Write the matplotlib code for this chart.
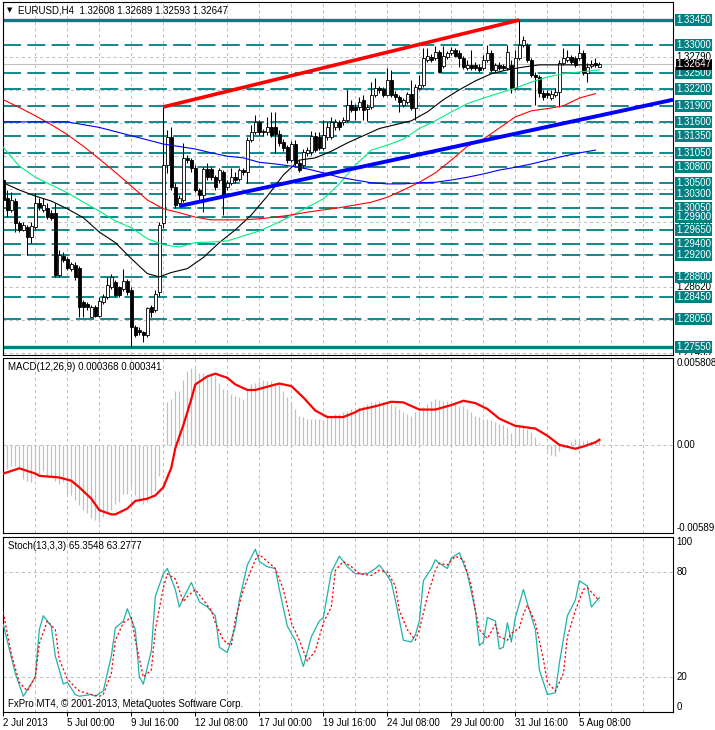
import matplotlib

matplotlib.use("Agg")
import matplotlib.pyplot as plt
import numpy as np

plt.rcParams["font.family"] = ["Liberation Sans", "DejaVu Sans"]
plt.rcParams["lines.scale_dashes"] = False

# ---- EURUSD H4 candles (2 Jul - 6 Aug 2013) ----
open_ = [
    1.3056, 1.3024, 1.3002, 1.3018, 1.2979, 1.2966, 1.2971, 1.2953, 1.2971, 1.3015,
    1.3002, 1.3006, 1.2997, 1.2997, 1.2885, 1.2919, 1.2914, 1.2896, 1.2903, 1.2898,
    1.2835, 1.2833, 1.2809, 1.2827, 1.2811, 1.2836, 1.2845, 1.2863, 1.2871, 1.2862,
    1.2860, 1.2874, 1.2858, 1.2791, 1.2786, 1.2781, 1.2777, 1.2826, 1.2822, 1.2853,
    1.2979, 1.3083, 1.3134, 1.3043, 1.3015, 1.3020, 1.3096, 1.3092, 1.3078, 1.3038,
    1.3029, 1.3076, 1.3076, 1.3061, 1.3056, 1.3070, 1.3043, 1.3051, 1.3061, 1.3058,
    1.3074, 1.3070, 1.3128, 1.3143, 1.3161, 1.3145, 1.3142, 1.3151, 1.3151, 1.3140,
    1.3124, 1.3115, 1.3092, 1.3121, 1.3087, 1.3083, 1.3105, 1.3106, 1.3136, 1.3134,
    1.3114, 1.3134, 1.3134, 1.3151, 1.3160, 1.3160, 1.3165, 1.3192, 1.3188, 1.3188,
    1.3201, 1.3185, 1.3188, 1.3210, 1.3222, 1.3221, 1.3210, 1.3237, 1.3212, 1.3206,
    1.3192, 1.3197, 1.3212, 1.3186, 1.3222, 1.3228, 1.3273, 1.3278, 1.3277, 1.3287,
    1.3262, 1.3278, 1.3285, 1.3291, 1.3285, 1.3277, 1.3258, 1.3264, 1.3264, 1.3260,
    1.3258, 1.3273, 1.3285, 1.3255, 1.3264, 1.3262, 1.3258, 1.3264, 1.3222, 1.3277,
    1.3300, 1.3300, 1.3273, 1.3246, 1.3242, 1.3214, 1.3214, 1.3205, 1.3210, 1.3215,
    1.3268, 1.3273, 1.3278, 1.3277, 1.3277, 1.3285, 1.3249, 1.3262, 1.3268, 1.32608,
]
high = [
    1.3078, 1.3038, 1.3034, 1.3024, 1.2982, 1.2980, 1.2975, 1.2980, 1.3033, 1.3024,
    1.3024, 1.3015, 1.3002, 1.3015, 1.2930, 1.2926, 1.2917, 1.2908, 1.2908, 1.2901,
    1.2840, 1.2836, 1.2831, 1.2831, 1.2844, 1.2851, 1.2880, 1.2887, 1.2876, 1.2865,
    1.2896, 1.2878, 1.2862, 1.2795, 1.2790, 1.2784, 1.2827, 1.2831, 1.2858, 1.2980,
    1.3188, 1.3147, 1.3152, 1.3051, 1.3029, 1.3123, 1.3101, 1.3096, 1.3083, 1.3042,
    1.3079, 1.3087, 1.3079, 1.3065, 1.3078, 1.3074, 1.3056, 1.3078, 1.3070, 1.3078,
    1.3078, 1.3134, 1.3156, 1.3174, 1.3165, 1.3149, 1.3169, 1.3178, 1.3178, 1.3147,
    1.3130, 1.3120, 1.3127, 1.3128, 1.3092, 1.3112, 1.3115, 1.3145, 1.3142, 1.3142,
    1.3165, 1.3160, 1.3169, 1.3167, 1.3165, 1.3170, 1.3219, 1.3201, 1.3194, 1.3206,
    1.3210, 1.3194, 1.3233, 1.3240, 1.3226, 1.3224, 1.3259, 1.3255, 1.3217, 1.3210,
    1.3205, 1.3215, 1.3237, 1.3230, 1.3246, 1.3295, 1.3295, 1.3284, 1.3298, 1.3291,
    1.3298, 1.3289, 1.3296, 1.3295, 1.3291, 1.3280, 1.3273, 1.3291, 1.3269, 1.3266,
    1.3282, 1.3300, 1.3291, 1.3268, 1.3269, 1.3266, 1.3300, 1.3273, 1.3291, 1.3345,
    1.3316, 1.3304, 1.3277, 1.3251, 1.3246, 1.3219, 1.3219, 1.3219, 1.3222, 1.3273,
    1.3295, 1.3291, 1.3282, 1.3280, 1.3300, 1.3291, 1.3268, 1.3273, 1.3277, 1.32689,
]
low = [
    1.3016, 1.2989, 1.2998, 1.2962, 1.2962, 1.2964, 1.2921, 1.2943, 1.2968, 1.3002,
    1.2998, 1.2986, 1.2984, 1.2881, 1.2881, 1.2908, 1.2894, 1.2892, 1.2876, 1.2808,
    1.2808, 1.2822, 1.2808, 1.2808, 1.2808, 1.2833, 1.2842, 1.2860, 1.2845, 1.2845,
    1.2856, 1.2849, 1.2755, 1.2773, 1.2777, 1.2764, 1.2773, 1.2809, 1.2817, 1.2847,
    1.2970, 1.3069, 1.3038, 1.3006, 1.3009, 1.3016, 1.3087, 1.3070, 1.3034, 1.3020,
    1.2998, 1.3056, 1.3056, 1.3038, 1.3051, 1.2993, 1.3038, 1.3047, 1.3051, 1.3054,
    1.3065, 1.3051, 1.3124, 1.3140, 1.3138, 1.3136, 1.3138, 1.3134, 1.3105, 1.3118,
    1.3108, 1.3087, 1.3088, 1.3081, 1.3070, 1.3078, 1.3099, 1.3101, 1.3106, 1.3110,
    1.3110, 1.3128, 1.3130, 1.3147, 1.3147, 1.3156, 1.3161, 1.3179, 1.3165, 1.3183,
    1.3165, 1.3163, 1.3185, 1.3206, 1.3214, 1.3206, 1.3208, 1.3206, 1.3201, 1.3178,
    1.3188, 1.3194, 1.3183, 1.3165, 1.3219, 1.3224, 1.3269, 1.3269, 1.3273, 1.3249,
    1.3258, 1.3275, 1.3282, 1.3278, 1.3260, 1.3257, 1.3255, 1.3255, 1.3255, 1.3251,
    1.3255, 1.3269, 1.3251, 1.3251, 1.3255, 1.3255, 1.3255, 1.3213, 1.3219, 1.3273,
    1.3296, 1.3269, 1.3242, 1.3192, 1.3206, 1.3201, 1.3205, 1.3201, 1.3206, 1.3188,
    1.3264, 1.3269, 1.3266, 1.3260, 1.3273, 1.3246, 1.3233, 1.3258, 1.3260, 1.32593,
]
close = [
    1.3020, 1.3002, 1.3020, 1.2979, 1.2966, 1.2975, 1.2953, 1.2973, 1.3015, 1.3007,
    1.3011, 1.2989, 1.2988, 1.2885, 1.2921, 1.2912, 1.2898, 1.2905, 1.2880, 1.2826,
    1.2826, 1.2827, 1.2826, 1.2811, 1.2838, 1.2845, 1.2867, 1.2880, 1.2849, 1.2849,
    1.2874, 1.2853, 1.2790, 1.2777, 1.2781, 1.2777, 1.2824, 1.2818, 1.2851, 1.2975,
    1.3083, 1.3134, 1.3043, 1.3011, 1.3024, 1.3096, 1.3092, 1.3078, 1.3038, 1.3029,
    1.3076, 1.3061, 1.3061, 1.3043, 1.3074, 1.3025, 1.3051, 1.3061, 1.3056, 1.3074,
    1.3070, 1.3128, 1.3143, 1.3161, 1.3142, 1.3142, 1.3152, 1.3138, 1.3140, 1.3123,
    1.3114, 1.3092, 1.3121, 1.3087, 1.3074, 1.3106, 1.3110, 1.3136, 1.3110, 1.3114,
    1.3138, 1.3152, 1.3161, 1.3161, 1.3151, 1.3165, 1.3192, 1.3183, 1.3183, 1.3197,
    1.3183, 1.3188, 1.3210, 1.3222, 1.3219, 1.3210, 1.3237, 1.3210, 1.3206, 1.3197,
    1.3201, 1.3212, 1.3186, 1.3224, 1.3228, 1.3277, 1.3280, 1.3273, 1.3287, 1.3251,
    1.3280, 1.3285, 1.3291, 1.3280, 1.3277, 1.3260, 1.3264, 1.3258, 1.3258, 1.3255,
    1.3273, 1.3285, 1.3255, 1.3264, 1.3258, 1.3258, 1.3287, 1.3222, 1.3277, 1.3300,
    1.3309, 1.3273, 1.3246, 1.3242, 1.3214, 1.3206, 1.3210, 1.3212, 1.3215, 1.3268,
    1.3277, 1.3278, 1.3269, 1.3264, 1.3285, 1.3249, 1.3260, 1.3266, 1.3264, 1.32647,
]

# ---- moving averages (bar index, price) ----
ma_black_idx = [0, 4, 8, 12, 16, 20, 24, 28, 32, 36, 39, 42, 46, 50, 54, 58, 62, 66, 70,
                74, 78, 82, 86, 90, 94, 98, 102, 106, 110, 114, 118, 122, 126, 130, 134,
                138, 142, 146, 149]
ma_black = [1.3051, 1.3038, 1.3027, 1.3018, 1.3004, 1.2988, 1.2962, 1.2943, 1.2914,
            1.2887, 1.2881, 1.2889, 1.2896, 1.2916, 1.2943, 1.2966, 1.2993, 1.3027,
            1.3065, 1.3092, 1.3096, 1.3108, 1.3123, 1.3136, 1.3149, 1.3156, 1.3163,
            1.3179, 1.3201, 1.3219, 1.3235, 1.3248, 1.3255, 1.3260, 1.3264, 1.3264,
            1.3264, 1.3264, 1.3264]
ma_green_idx = [0, 4, 8, 12, 16, 20, 24, 28, 32, 36, 40, 44, 48, 52, 56, 60, 64, 68, 72,
                76, 80, 84, 88, 92, 96, 100, 104, 108, 112, 116, 120, 124, 128, 132, 136,
                140, 144, 149]
ma_green = [1.3115, 1.3081, 1.3061, 1.3047, 1.3033, 1.3016, 1.3000, 1.2982, 1.2970,
            1.2950, 1.2939, 1.2935, 1.2943, 1.2944, 1.2946, 1.2955, 1.2964, 1.2977,
            1.2991, 1.3007, 1.3022, 1.3049, 1.3083, 1.3110, 1.3119, 1.3130, 1.3149,
            1.3163, 1.3179, 1.3194, 1.3204, 1.3213, 1.3222, 1.3233, 1.3242, 1.3248,
            1.3251, 1.3255]
ma_red_idx = [0, 4, 8, 12, 16, 20, 24, 28, 32, 36, 40, 44, 48, 52, 56, 60, 64, 68, 72, 76,
              80, 84, 88, 92, 96, 100, 104, 108, 112, 116, 120, 124, 128, 132, 136, 140,
              144, 148]
ma_red = [1.3201, 1.3187, 1.3172, 1.3156, 1.3138, 1.3117, 1.3094, 1.3070, 1.3045, 1.3020,
          1.3004, 1.2997, 1.2989, 1.2984, 1.2984, 1.2984, 1.2986, 1.2989, 1.2993, 1.2998,
          1.3002, 1.3006, 1.3011, 1.3016, 1.3025, 1.3038, 1.3052, 1.3069, 1.3092, 1.3117,
          1.3130, 1.3150, 1.3170, 1.3181, 1.3185, 1.3190, 1.3204, 1.3212]
ma_blue_idx = [0, 16, 20, 24, 32, 40, 48, 52, 56, 60, 64, 68, 72, 76, 80, 84, 88, 92, 96,
               100, 104, 108, 112, 116, 120, 124, 128, 132, 136, 140, 144, 148]
ma_blue = [1.3161, 1.3161, 1.3156, 1.3151, 1.3136, 1.3121, 1.3112, 1.3105, 1.3099, 1.3096,
           1.3088, 1.3085, 1.3081, 1.3076, 1.3069, 1.3061, 1.3056, 1.3051, 1.3049, 1.3049,
           1.3051, 1.3052, 1.3056, 1.3061, 1.3067, 1.3074, 1.3079, 1.3085, 1.3092, 1.3099,
           1.3105, 1.3110]

# ---- trend lines (bar index, price) ----
trend_red_idx = [40, 129]
trend_red = [1.3188, 1.3345]
trend_blue_idx = [44, 167.4]
trend_blue = [1.3009, 1.3201]

# ---- horizontal levels ----
levels_solid = [1.3345, 1.2755]
levels_dashed = [1.3300, 1.3250, 1.3220, 1.3190, 1.3160, 1.3135, 1.3105, 1.3080, 1.3050,
                 1.3030, 1.3005, 1.2990, 1.2965, 1.2940, 1.2920, 1.2880, 1.2845, 1.2805]
price_grid = [1.27435, 1.28030, 1.28620, 1.29215, 1.29810, 1.30405, 1.31000, 1.31595,
              1.32190, 1.32790]
bid = 1.32647

# ---- MACD(12,26,9) ----
macd = [
    -0.00186, -0.00164, -0.00142, -0.00142, -0.00153, -0.00229, -0.00240, -0.00251, -0.00196, -0.00196,
    -0.00175, -0.00207, -0.00207, -0.00240, -0.00262, -0.00251, -0.00327, -0.00338, -0.00371, -0.00404,
    -0.00437, -0.00458, -0.00491, -0.00502, -0.00513, -0.00480, -0.00458, -0.00437, -0.00393, -0.00382,
    -0.00327, -0.00327, -0.00284, -0.00338, -0.00382, -0.00393, -0.00382, -0.00338, -0.00306, -0.00207,
    0.00005, 0.00284, 0.00306, 0.00360, 0.00360, 0.00437, 0.00491, 0.00513, 0.00513, 0.00480,
    0.00480, 0.00469, 0.00480, 0.00458, 0.00415, 0.00371, 0.00360, 0.00338, 0.00327, 0.00317,
    0.00306, 0.00382, 0.00404, 0.00415, 0.00426, 0.00432, 0.00426, 0.00426, 0.00415, 0.00404,
    0.00360, 0.00317, 0.00284, 0.00240, 0.00196, 0.00186, 0.00175, 0.00175, 0.00175, 0.00175,
    0.00164, 0.00186, 0.00196, 0.00207, 0.00207, 0.00218, 0.00229, 0.00240, 0.00240, 0.00251,
    0.00262, 0.00273, 0.00284, 0.00288, 0.00295, 0.00284, 0.00279, 0.00273, 0.00262, 0.00240,
    0.00218, 0.00207, 0.00196, 0.00218, 0.00229, 0.00251, 0.00273, 0.00295, 0.00306, 0.00301,
    0.00295, 0.00295, 0.00295, 0.00284, 0.00262, 0.00258, 0.00240, 0.00218, 0.00196, 0.00186,
    0.00175, 0.00175, 0.00164, 0.00153, 0.00142, 0.00131, 0.00120, 0.00076, 0.00131, 0.00142,
    0.00131, 0.00109, 0.00087, 0.00055, 0.00011, 0.00000, -0.00033, -0.00065, -0.00076, -0.00044,
    -0.00022, -0.00004, 0.00022, 0.00039, 0.00039, 0.00026, 0.00033, 0.00026, 0.00022, 0.000368,
]
signal_idx = [0, 4, 8, 9, 14, 17, 19, 22, 24, 27, 28, 31, 33, 36, 38, 40, 42, 43, 45, 47,
              48, 51, 53, 56, 58, 61, 63, 66, 69, 72, 75, 78, 81, 85, 88, 89, 93, 97, 100,
              104, 108, 112, 115, 118, 121, 124, 128, 133, 136, 139, 143, 145, 148, 149]
signal = [-0.00192, -0.00157, -0.00192, -0.00207, -0.00218, -0.00240, -0.00284, -0.00360,
          -0.00437, -0.00465, -0.00465, -0.00426, -0.00375, -0.00360, -0.00338, -0.00284,
          -0.00153, -0.00022, 0.00131, 0.00306, 0.00404, 0.00458, 0.00476, 0.00448, 0.00404,
          0.00367, 0.00367, 0.00389, 0.00410, 0.00393, 0.00317, 0.00229, 0.00186, 0.00186,
          0.00218, 0.00234, 0.00258, 0.00288, 0.00284, 0.00236, 0.00236, 0.00266, 0.00295,
          0.00279, 0.00240, 0.00175, 0.00127, 0.00109, 0.00061, 0.00000, -0.00026, -0.00011,
          0.00017, 0.000341]

# ---- Stoch(13,3,3) ----
stoch_idx = [0, 3, 5, 8, 9, 10, 12, 13, 15, 16, 18, 19, 22, 23, 25, 27, 28, 30, 31, 33, 34,
             35, 37, 38, 40, 41, 43, 44, 45, 47, 49, 51, 53, 54, 56, 58, 59, 61, 63, 64, 66,
             68, 69, 71, 73, 75, 77, 79, 80, 82, 84, 86, 88, 89, 91, 93, 94, 96, 97, 98,
             100, 102, 103, 104, 105, 107, 108, 109, 111, 112, 114, 116, 118, 119, 120, 121,
             123, 124, 125, 126, 127, 128, 130, 131, 133, 134, 136, 138, 139, 141, 143, 144,
             146, 147, 149]
stoch_main = [50, 22, 9, 20, 47, 55, 49, 32, 16, 17, 10, 9, 10, 9, 12, 32, 48, 52, 59, 47, 20,
              16, 35, 66, 79, 82, 70, 60, 65, 74, 63, 60, 55, 37, 34, 49, 64, 84, 93, 86, 83,
              82, 70, 49, 41, 26, 43, 52, 54, 80, 89, 83, 79, 79, 79, 82, 84, 78, 74, 64,
              41, 40, 44, 52, 75, 82, 87, 85, 82, 88, 91, 79, 58, 38, 40, 54,
              52, 36, 37, 51, 40, 54, 70, 62, 47, 24, 10, 11, 28, 55, 64, 75,
              72, 60, 65.35]
stoch_sig_idx = [0, 2, 4, 6, 8, 9, 11, 13, 14, 16, 18, 19, 22, 24, 25, 27, 28, 30, 32, 33,
                 35, 37, 38, 40, 41, 43, 45, 46, 48, 50, 52, 53, 55, 57, 58, 60, 63, 64, 66,
                 68, 70, 72, 74, 76, 78, 80, 82, 83, 85, 87, 89, 92, 94, 96, 98, 99, 101,
                 103, 104, 106, 108, 109, 111, 113, 115, 117, 118, 119, 121, 123, 124, 126,
                 127, 129, 130, 131, 133, 135, 136, 138, 140, 141, 143, 145, 146, 148, 149]
stoch_sig = [57, 33, 17, 12, 20, 39, 52, 47, 30, 19, 14, 12, 10, 9, 10, 22, 41, 51, 54, 41,
             20, 24, 47, 71, 79, 76, 63, 66, 70, 64, 58, 51, 41, 38, 53, 70, 87, 90, 86,
             82, 70, 51, 41, 29, 35, 51, 60, 81, 86, 83, 79, 78, 81, 80, 72, 58, 47,
             41, 47, 66, 81, 85, 84, 89, 87, 72, 58, 47, 42, 50, 43, 41,
             45, 48, 56, 61, 51, 30, 17, 12, 22, 43, 58, 70, 71, 66, 63.28]

date_ticks = [0, 16, 32, 48, 64, 80, 96, 112, 128, 144]
date_labels = ["2 Jul 2013", "5 Jul 00:00", "9 Jul 16:00", "12 Jul 08:00", "17 Jul 00:00",
               "19 Jul 16:00", "24 Jul 08:00", "29 Jul 00:00", "31 Jul 16:00", "5 Aug 08:00"]

TEAL = "#008080"
GRID = "#c0c0c0"
W, H = 715, 730
X0, X1 = -0.15, 167.4

fig = plt.figure(figsize=(W / 100, H / 100), dpi=100)


def px_axes(x0, y0, x1, y1):
    return fig.add_axes([x0 / W, 1 - y1 / H, (x1 - x0) / W, (y1 - y0) / H])


def panel(y0, y1, ylim):
    ax = px_axes(2.7, y0, 673, y1)
    ax.set_xlim(X0, X1)
    ax.set_ylim(*ylim)
    ax.set_xticks([])
    ax.set_yticks([])
    for s in ax.spines.values():
        s.set_color("black")
        s.set_linewidth(0.8)
    for gx in range(8, 168, 8):
        ax.axvline(gx, color=GRID, lw=0.75, dashes=(2.2, 2.2), zorder=0)
    strip = px_axes(673, y0, W, y1)
    strip.set_xlim(0, 1)
    strip.set_ylim(*ylim)
    strip.axis("off")
    return ax, strip


ax, lab = panel(2, 355, (1.27400, 1.33775))
axm, labm = panel(358, 533, (-0.005895, 0.005808))
axs, labs = panel(537, 712, (0, 100))

bars = np.arange(len(close))
o, h, l, c = map(np.array, (open_, high, low, close))

# ---- main price panel ----
for g in price_grid:
    ax.axhline(g, color=GRID, lw=0.75, dashes=(2.2, 2.2), zorder=0)
for lv in levels_dashed:
    ax.axhline(lv, color=TEAL, lw=1.3, dashes=(13, 4.5), zorder=1)
for lv in levels_solid:
    ax.axhline(lv, color=TEAL, lw=2.4, zorder=1)
ax.axhline(bid, color=GRID, lw=0.8, zorder=1)

ax.vlines(bars, l, h, color="black", lw=0.75, zorder=3)
bull = c >= o
body_lo = np.minimum(o, c)
body_h = np.maximum(np.abs(c - o), 0.00004)
ax.bar(bars, body_h, bottom=body_lo, width=0.72,
       color=np.where(bull, "white", "black"), edgecolor="black", linewidth=0.6, zorder=4)

ax.plot(ma_black_idx, ma_black, color="black", lw=0.8, zorder=5)
ax.plot(ma_green_idx, ma_green, color="#00ee80", lw=0.8, zorder=5)
ax.plot(ma_red_idx, ma_red, color="#ff0000", lw=0.8, zorder=5)
ax.plot(ma_blue_idx, ma_blue, color="#0000ff", lw=0.8, zorder=5)
ax.plot(trend_red_idx, trend_red, color="#ff0000", lw=2.6, solid_capstyle="butt", zorder=6)
ax.plot(trend_blue_idx, trend_blue, color="#0000ff", lw=2.8, solid_capstyle="butt", zorder=6)

fig.text(7 / W, 1 - 10.5 / H, "\u25bc", fontsize=5, family="DejaVu Sans", va="center")
fig.text(18 / W, 1 - 10.5 / H, "EURUSD,H4  1.32608 1.32689 1.32593 1.32647",
         fontsize=7, va="center")

# right price scale
for g in price_grid:
    lab.text(0.08, g, f"{g:.5f}", fontsize=7, va="center", color="black",
             clip_on=True, zorder=2)
for lv in levels_dashed + levels_solid:
    lab.text(0.08, lv, f"{lv:.5f}", fontsize=7, va="center", color="white", clip_on=True,
             zorder=4, bbox=dict(boxstyle="square,pad=0.1", fc=TEAL, ec="none"))
lab.text(0.08, bid, f"{bid:.5f}", fontsize=7, va="center", color="white", clip_on=True,
         zorder=5, bbox=dict(boxstyle="square,pad=0.06", fc="black", ec="none"))

# ---- MACD panel ----
axm.axhline(0, color=GRID, lw=0.75, dashes=(2.2, 2.2), zorder=0)
axm.vlines(bars, 0, macd, color=GRID, lw=0.9, zorder=2)
axm.plot(signal_idx, signal, color="#ff0000", lw=1.6, zorder=3)
fig.text(8 / W, 1 - 367 / H, "MACD(12,26,9) 0.000368 0.000341", fontsize=7, va="center")
labm.text(0.08, 0.005808, "0.005808", fontsize=7, va="top", clip_on=True)
labm.text(0.08, 0.0, "0.00", fontsize=7, va="center", clip_on=True)
labm.text(0.08, -0.005895, "-0.005895", fontsize=7, va="bottom", clip_on=True)

# ---- Stochastic panel ----
for g in (20, 80):
    axs.axhline(g, color=GRID, lw=0.75, dashes=(2.2, 2.2), zorder=0)
axs.plot(stoch_idx, stoch_main, color="#20b2aa", lw=0.9, zorder=3)
axs.plot(stoch_sig_idx, stoch_sig, color="#ff0000", lw=0.9, dashes=(1.6, 1.6), zorder=3)
fig.text(8 / W, 1 - 546 / H, "Stoch(13,3,3) 65.3548 63.2777", fontsize=7, va="center")
fig.text(8 / W, 1 - 704 / H, "FxPro MT4, \u00a9 2001-2013, MetaQuotes Software Corp.",
         fontsize=7, va="center")
labs.text(0.08, 100, "100", fontsize=7, va="top", clip_on=True)
labs.text(0.08, 80, "80", fontsize=7, va="center", clip_on=True)
labs.text(0.08, 20, "20", fontsize=7, va="center", clip_on=True)
labs.text(0.08, 0, "0", fontsize=7, va="bottom", clip_on=True)

axs.set_xticks(date_ticks)
axs.set_xticklabels(date_labels, ha="left", fontsize=7)
axs.tick_params(axis="x", direction="out", length=3, width=0.7, pad=1.5)

fig.savefig("out.png", dpi=100)
